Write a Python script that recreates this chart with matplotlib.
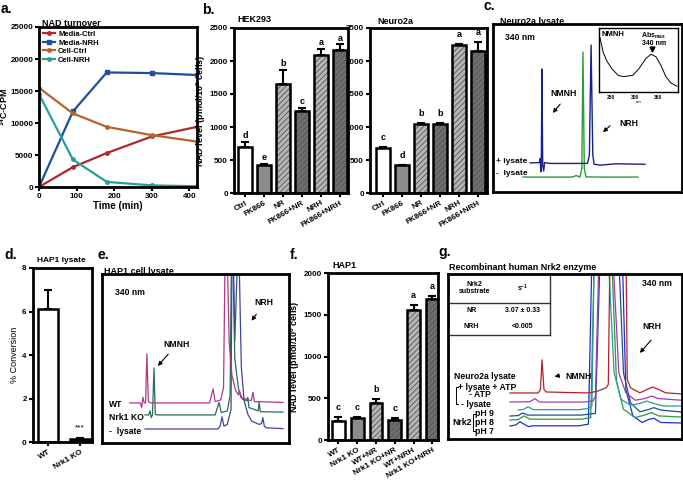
import numpy as np
import matplotlib
matplotlib.use("Agg")
import matplotlib.pyplot as plt

plt.rcParams['font.family'] = ['Liberation Sans', 'DejaVu Sans']
plt.rcParams['font.weight'] = 'bold'
plt.rcParams['mathtext.default'] = 'regular'
plt.rcParams['hatch.linewidth'] = 0.6

###########################################################################
# Dados

# a. NAD turnover
time_min = [0, 90, 180, 300, 420]
media_ctrl = [0, 3100, 5300, 7900, 9400]
media_nrh = [0, 11800, 17900, 17800, 17500]
cell_ctrl = [15500, 11500, 9400, 8100, 7100]
cell_nrh = [14500, 4300, 800, 250, 120]

# b. NAD level
b_labels = ['Ctrl', 'FK866', 'NR', 'FK866+NR', 'NRH', 'FK866+NRH']
hek_vals = [700, 430, 1655, 1245, 2090, 2165]
hek_errs = [75, 15, 215, 50, 90, 85]
hek_letters = ['d', 'e', 'b', 'c', 'a', 'a']
n2a_vals = [685, 418, 1052, 1042, 2240, 2155]
n2a_errs = [15, 12, 12, 18, 18, 140]
n2a_letters = ['c', 'd', 'b', 'b', 'a', 'a']

# d. HAP1 lysate
d_labels = ['WT', 'Nrk1 KO']
d_vals = [6.1, 0.15]
d_errs = [0.9, 0.05]

# f. HAP1
f_labels = ['WT', 'Nrk1 KO', 'WT+NR', 'Nrk1 KO+NR', 'WT+NRH', 'Nrk1 KO+NRH']
f_vals = [230, 262, 440, 238, 1560, 1685]
f_errs = [40, 10, 48, 22, 60, 40]
f_letters = ['c', 'c', 'b', 'c', 'a', 'a']

# c. Neuro2a lysate (cromatogramas, unidades arbitrarias)
c_plus_x = [19.6, 24.5, 25.0, 25.3, 25.6, 25.9, 26.3, 26.8, 27.3, 30, 50, 51.0, 51.9, 52.8, 53.5, 57, 65, 80.4]
c_plus_y = [17.3, 17.5, 20, 12, 22, 73.2, 16, 12.5, 17.5, 17, 17, 22, 87.5, 22, 16.5, 16, 16.8, 16.5]
c_minus_x = [15.9, 42, 44, 46, 47.0, 47.6, 48.3, 49.2, 55, 76.7]
c_minus_y = [8.9, 8.9, 9.8, 8.9, 14, 83.3, 14, 9, 8.9, 8.9]
spec_nm = [226, 233, 241, 252, 265, 276, 296, 309, 324, 335, 346, 357, 367, 378, 391]
spec_abs = [0.85, 0.62, 0.48, 0.36, 0.26, 0.24, 0.26, 0.36, 0.52, 0.59, 0.55, 0.41, 0.24, 0.14, 0.09]

# e. HAP1 cell lysate
e_wt_x = [14.8, 20.5, 21.2, 21.9, 22.6, 23.3, 24, 24.8, 26, 57.5, 59.4, 60.5, 63.5, 65, 65.8, 67, 68, 69.5, 71.5, 73, 73.5, 74.2, 79.8, 80.7, 81.5, 96.8]
e_wt_y = [23.7, 23.7, 21, 27, 23.7, 23.7, 52.7, 24.5, 23.7, 23.7, 32, 24.5, 25.5, 33, 110, 110, 60, 40, 31, 28.5, 31, 27, 25, 30, 24.5, 24]
e_ko_x = [23, 25, 25.7, 26.3, 27, 27.8, 28.5, 29.5, 60.5, 62.6, 63.8, 67, 68.5, 69.2, 70, 71, 73, 75, 77.5, 78, 78.6, 83.5, 84, 84.7, 96.8]
e_ko_y = [16.6, 16.6, 19, 15, 16.6, 44.4, 17, 16.6, 16.6, 24, 18, 19, 28, 110, 110, 50, 32, 26, 25, 27, 21, 19, 24, 18.5, 18.3]
e_ly_x = [23, 62, 63.2, 64.2, 65.2, 67, 69, 69.5, 70.3, 71, 72.5, 73.3, 74.5, 76, 78, 80, 84, 85.3, 86, 86.8, 88, 96.8]
e_ly_y = [8.3, 8.3, 10, 15.5, 10, 11, 20, 110, 110, 60, 110, 110, 45, 25, 17, 13, 11, 11.5, 15, 10, 9, 8.5]

# g. Nrk2 recombinante
g_red_x = [26.5, 38.5, 39.5, 40.2, 41.0, 42, 60, 64, 67.5, 68.5, 69.2, 76.1, 76.6, 78, 82, 85, 87.5, 90, 93, 99.6]
g_red_y = [27.9, 27.9, 30, 48, 30, 28.5, 27.9, 29, 31, 33, 110, 110, 36, 31, 28, 30, 31.5, 30, 28, 27.3]
g_mag_x = [26.5, 35, 37.2, 39, 58, 62, 63, 64.5, 70.5, 73, 76, 80, 84, 87, 90, 99.6]
g_mag_y = [22.4, 22.6, 24.5, 22.4, 22.4, 23, 26, 110, 110, 40, 28, 23.5, 24.5, 26, 24.5, 23.5]
g_teal_x = [29.9, 32, 34.2, 36.5, 56, 60, 61.5, 62.5, 68.5, 71, 74, 78, 82, 85, 88, 92, 99.6]
g_teal_y = [17.6, 17.8, 19.5, 17.8, 17.8, 18.5, 20, 110, 110, 40, 24, 20.5, 21.5, 23, 21.5, 20, 20]
g_navy_x = [26.5, 30, 32, 34, 57, 63, 65, 73, 75, 78, 82, 86, 88, 91, 99.6]
g_navy_y = [13.9, 14.2, 15.8, 14.5, 14.5, 15.5, 110, 110, 40, 22, 16.5, 18, 19, 17.5, 16.4]
g_green_x = [26.5, 30, 32.5, 35, 57, 61, 62.5, 70, 72, 75, 80, 84, 87, 90, 99.6]
g_green_y = [11.5, 11.8, 14, 12, 12, 13, 110, 110, 35, 18, 13, 14.5, 16, 14, 13.3]
g_blue_x = [26.5, 29, 30.8, 33, 34.5, 36, 56, 60, 61.5, 74.5, 76, 79, 83, 86, 88, 91, 99.6]
g_blue_y = [7.9, 8.5, 10.5, 8.5, 7.5, 8, 8, 9, 110, 110, 30, 14, 10, 12, 12.5, 10, 9.7]

###########################################################################

W, H = 683, 486
fig = plt.figure(figsize=(W / 100, H / 100), dpi=100)

TICK_FS = 5.8
LAB_FS = 6.5

def px_axes(l, t, r, b):
    return fig.add_axes([l / W, 1 - b / H, (r - l) / W, (b - t) / H])

def px_text(x, y, s, **kw):
    fig.text(x / W, 1 - y / H, s, **kw)

def frame(ax, lw=2.0):
    for sp in ax.spines.values():
        sp.set_linewidth(lw)

def arrow(ax, tip, tail):
    ax.annotate('', xy=tip, xytext=tail,
                arrowprops=dict(arrowstyle='-|>', color='black', lw=0.8, mutation_scale=6))

# estilos das barras (cor, hachura)
bar_styles = [('white', None), ('#8c8c8c', None), ('#b5b5b5', '//////'),
              ('#6e6e6e', '//////'), ('#b5b5b5', '//////'), ('#6e6e6e', '//////')]

def bar_panel(ax, labels, vals, errs, letters, styles, width, gap):
    x = np.arange(len(vals))
    for i in range(len(vals)):
        fc, h = styles[i]
        ec = '#555555' if h else fc
        ax.bar(x[i], vals[i], width, color=fc, hatch=h, edgecolor=ec, lw=0, zorder=2)
        ax.bar(x[i], vals[i], width, fill=False, edgecolor='black', lw=1.8, zorder=3)
    ax.errorbar(x, vals, yerr=[np.zeros(len(vals)), errs], fmt='none', ecolor='black',
                elinewidth=1.5, capsize=3, capthick=1.5, zorder=1)
    if letters:
        for i in range(len(vals)):
            ax.text(x[i], vals[i] + errs[i] + gap, letters[i], ha='center', va='bottom',
                    fontsize=6.5, fontweight='bold')
    ax.set_xticks(x)
    ax.set_xticklabels(labels, rotation=30, ha='right', rotation_mode='anchor', fontsize=TICK_FS)
    ax.tick_params(axis='both', labelsize=TICK_FS, length=3, width=1.5, pad=1.5)
    frame(ax)

# ---------------- a ----------------
ax = px_axes(39, 27, 197, 187)
ax.plot(time_min, media_ctrl, '-o', color='#b5262b', lw=1.6, ms=2.5, label='Media-Ctrl')
ax.plot(time_min, media_nrh, '-s', color='#1d4f9c', lw=1.6, ms=2.5, label='Media-NRH')
ax.plot(time_min, cell_ctrl, '-o', color='#b5642c', lw=1.6, ms=2.5, label='Cell-Ctrl')
ax.plot(time_min, cell_nrh, '-o', color='#2a9d98', lw=1.6, ms=2.5, label='Cell-NRH')
ax.set_xlim(0, 420)
ax.set_ylim(0, 25000)
ax.set_xticks([0, 100, 200, 300, 400])
ax.set_yticks(range(0, 25001, 5000))
ax.tick_params(labelsize=TICK_FS, length=3, width=1.5, pad=1)
ax.set_xlabel('Time (min)', fontsize=7, fontweight='bold', labelpad=1)
ax.set_ylabel('$^{14}$C-CPM', fontsize=LAB_FS, fontweight='bold', labelpad=0)
frame(ax)
ax.legend(loc='upper left', frameon=False, fontsize=5.5, handlelength=1.6,
          borderaxespad=0.1, labelspacing=0.15, handletextpad=0.4)
px_text(42, 23, 'NAD turnover', fontsize=6.5, fontweight='bold', va='center')
px_text(1, 9, 'a.', fontsize=10, fontweight='bold', va='center')

# ---------------- b ----------------
ax = px_axes(234, 28, 348, 193)
bar_panel(ax, b_labels, hek_vals, hek_errs, hek_letters, bar_styles, 0.72, 30)
ax.set_xlim(-0.58, 5.42)
ax.set_ylim(0, 2500)
ax.set_yticks(range(0, 2501, 500))
ax.set_ylabel('NAD level (pmol/10$^6$ cells)', fontsize=LAB_FS, fontweight='bold', labelpad=1)
px_text(237, 20, 'HEK293', fontsize=6.5, fontweight='bold', va='center')
px_text(202, 10, 'b.', fontsize=10, fontweight='bold', va='center')

ax = px_axes(370, 28, 487, 193)
bar_panel(ax, b_labels, n2a_vals, n2a_errs, n2a_letters, bar_styles, 0.72, 70)
ax.set_xlim(-0.68, 5.47)
ax.set_ylim(0, 2500)
ax.set_yticks(range(0, 2501, 500))
px_text(377, 21, 'Neuro2a', fontsize=6.5, fontweight='bold', va='center')

# ---------------- c ----------------
ax = px_axes(493, 24, 682, 192)
ax.plot(c_minus_x, c_minus_y, color='#2e9a3a', lw=1.0)
ax.plot(c_plus_x, c_plus_y, color='#1a1f8f', lw=1.0)
ax.set_xlim(0, 100)
ax.set_ylim(0, 100)
ax.set_xticks([])
ax.set_yticks([])
frame(ax)
ax.text(6.3, 91.7, '340 nm', fontsize=6.2, fontweight='bold', va='center')
ax.text(37.3, 58.9, 'NMNH', fontsize=6.2, fontweight='bold', ha='center', va='center')
arrow(ax, (30.7, 45.8), (36.5, 53.6))
ax.text(71.7, 41, 'NRH', fontsize=6.2, fontweight='bold', ha='center', va='center')
arrow(ax, (57.1, 34.5), (63, 40.5))
ax.text(1.5, 17.9, '+ lysate', fontsize=6, fontweight='bold', va='center')
ax.text(1.5, 11.3, '-  lysate', fontsize=6, fontweight='bold', va='center')
px_text(500, 22, 'Neuro2a lysate', fontsize=6.5, fontweight='bold', va='center')
px_text(484, 6, 'c.', fontsize=10, fontweight='bold', va='center')

ins = px_axes(599, 28, 678, 92)
ins.plot(spec_nm, spec_abs, color='black', lw=0.7)
ins.set_xlim(224, 393)
ins.set_ylim(0, 1)
ins.set_yticks([])
ins.set_xticks([250, 300, 350])
ins.tick_params(axis='x', length=0, labelsize=3.5, pad=2)
ins.set_xlabel('nm', fontsize=3, labelpad=0.5)
frame(ins, 1.0)
ins.text(229, 0.9, 'NMNH', fontsize=5.5, fontweight='bold', va='center')
ins.text(341, 0.87, 'Abs$_{max}$', fontsize=5, fontweight='bold', ha='center', va='center')
ins.text(341, 0.76, '340 nm', fontsize=5, fontweight='bold', ha='center', va='center')
ins.plot([337], [0.67], marker='v', color='black', ms=3.5)

# ---------------- d ----------------
ax = px_axes(33, 268, 92, 442)
bar_panel(ax, d_labels, d_vals, d_errs, None, [('white', None), ('black', None)], 0.62, 0)
ax.set_xlim(-0.47, 1.37)
ax.set_ylim(0, 8)
ax.set_yticks([0, 2, 4, 6, 8])
ax.set_ylabel('% Conversion', fontsize=LAB_FS, fontweight='normal', labelpad=2)
ax.text(1, d_vals[1] + 0.35, '***', fontsize=6, ha='center', va='bottom', fontweight='normal')
px_text(61, 260, 'HAP1 lysate', fontsize=6, fontweight='bold', ha='center', va='center')
px_text(4, 255, 'd.', fontsize=10, fontweight='bold', va='center')

# ---------------- e ----------------
ax = px_axes(102, 274, 289, 443)
ax.plot(e_ly_x, e_ly_y, color='#3d44a0', lw=0.9)
ax.plot(e_ko_x, e_ko_y, color='#2d6b55', lw=0.9)
ax.plot(e_wt_x, e_wt_y, color='#b0378f', lw=0.9)
ax.set_xlim(0, 100)
ax.set_ylim(0, 100)
ax.set_xticks([])
ax.set_yticks([])
frame(ax)
ax.text(6.9, 89.3, '340 nm', fontsize=6.2, fontweight='bold', va='center')
ax.text(39.8, 58, 'NMNH', fontsize=6.2, fontweight='bold', ha='center', va='center')
arrow(ax, (28.9, 44.4), (36.4, 53.8))
ax.text(86.6, 83.4, 'NRH', fontsize=6.2, fontweight='bold', ha='center', va='center')
arrow(ax, (79.1, 71), (83.4, 77.5))
ax.text(3.7, 23, 'WT', fontsize=6.2, fontweight='bold', va='center')
ax.text(3.7, 14.8, 'Nrk1 KO', fontsize=6.2, fontweight='bold', va='center')
ax.text(3.7, 7.1, '-  lysate', fontsize=6.2, fontweight='bold', va='center')
px_text(104, 271, 'HAP1 cell lysate', fontsize=6.5, fontweight='bold', va='center')
px_text(98, 255, 'e.', fontsize=10, fontweight='bold', va='center')

# ---------------- f ----------------
ax = px_axes(328, 273, 438, 440)
bar_panel(ax, f_labels, f_vals, f_errs, f_letters, bar_styles, 0.68, 60)
ax.set_xlim(-0.55, 5.3)
ax.set_ylim(0, 2000)
ax.set_yticks(range(0, 2001, 500))
ax.set_ylabel('NAD level (pmol/10$^6$ cells)', fontsize=LAB_FS, fontweight='bold', labelpad=1)
px_text(332, 265, 'HAP1', fontsize=6.5, fontweight='bold', va='center')
px_text(290, 255, 'f.', fontsize=10, fontweight='bold', va='center')

# ---------------- g ----------------
ax = px_axes(448, 274, 682, 439)
ax.plot(g_blue_x, g_blue_y, color='#1f2fd0', lw=0.9)
ax.plot(g_green_x, g_green_y, color='#2a9a3a', lw=0.9)
ax.plot(g_navy_x, g_navy_y, color='#1f4f8f', lw=0.9)
ax.plot(g_teal_x, g_teal_y, color='#2a9c9c', lw=0.9)
ax.plot(g_mag_x, g_mag_y, color='#a33ab5', lw=0.9)
ax.plot(g_red_x, g_red_y, color='#b2222a', lw=0.9)
ax.set_xlim(0, 100)
ax.set_ylim(0, 100)
ax.set_xticks([])
ax.set_yticks([])
frame(ax)
# tabela
ax.plot([43.6, 43.6], [63, 100], color='#333333', lw=1)
ax.plot([0, 43.6], [63, 63], color='#333333', lw=1)
ax.plot([0, 43.6], [82.4, 82.4], color='#333333', lw=1)
ax.text(11.5, 91.5, 'Nrk2\nsubstrate', fontsize=5, ha='center', va='center', linespacing=1.0)
ax.text(32, 91.5, 's$^{-1}$', fontsize=5, ha='center', va='center')
ax.text(10, 77.6, 'NR', fontsize=5, ha='center', va='center')
ax.text(32, 77.6, '3.07 ± 0.33', fontsize=5, ha='center', va='center')
ax.text(10, 67.9, 'NRH', fontsize=5, ha='center', va='center')
ax.text(32, 67.9, '<0.005', fontsize=5, ha='center', va='center')

ax.text(89.3, 94.5, '340 nm', fontsize=6.2, ha='center', va='center')
ax.text(87.2, 67.9, 'NRH', fontsize=6.2, ha='center', va='center')
arrow(ax, (81.2, 50.9), (87.6, 61.2))
ax.text(50, 37.6, 'NMNH', fontsize=6.2, va='center')
arrow(ax, (44.4, 37.6), (47.5, 38.4))
ax.text(2.6, 37.6, 'Neuro2a lysate', fontsize=6.2, va='center')
ax.text(4.3, 31.5, '+ lysate + ATP', fontsize=6.2, va='center')
ax.text(9, 26.7, '- ATP', fontsize=6.2, va='center')
ax.text(5.6, 21.2, '- lysate', fontsize=6.2, va='center')
ax.plot([4.3, 3.4, 3.4, 4.3], [31.5, 31.5, 21.2, 21.2], color='black', lw=0.7)
ax.text(1.7, 9.7, 'Nrk2', fontsize=6.2, va='center')
ax.text(11.5, 15.2, 'pH 9', fontsize=6.2, va='center')
ax.text(11.5, 9.7, 'pH 8', fontsize=6.2, va='center')
ax.text(11.5, 4.8, 'pH 7', fontsize=6.2, va='center')
ax.plot([11.5, 10.7, 10.7, 11.5], [15.2, 15.2, 4.8, 4.8], color='black', lw=0.7)
px_text(449, 267, 'Recombinant human Nrk2 enzyme', fontsize=6.5, va='center')
px_text(438, 252, 'g.', fontsize=10, fontweight='bold', va='center')

fig.savefig('out.png', dpi=100)
